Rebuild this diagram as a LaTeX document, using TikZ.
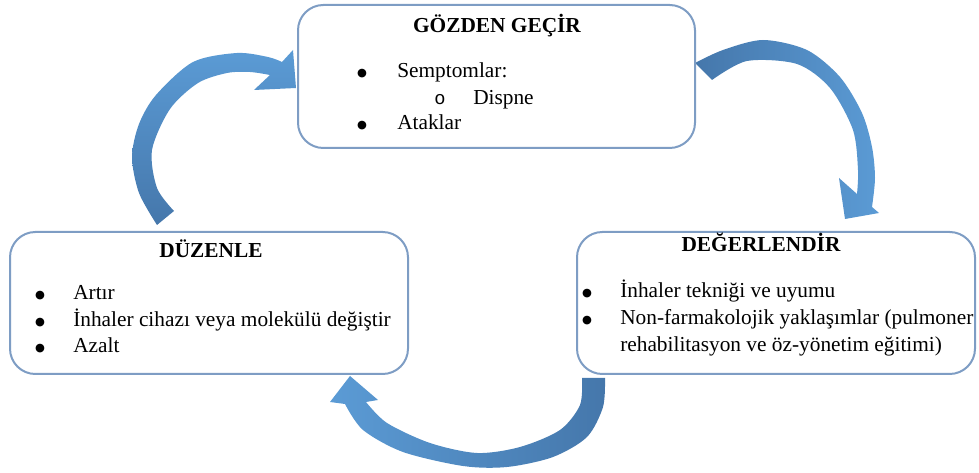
\documentclass[tikz,border=0pt]{standalone}
\usepackage{fontspec}
\setmainfont{Liberation Serif}
\newfontfamily\subbul{Liberation Mono}
\newfontfamily\bulfont{DejaVu Sans}
\definecolor{arrdark}{RGB}{69,119,171}
\definecolor{arrlight}{RGB}{91,155,213}
\definecolor{boxline}{RGB}{126,157,196}
\begin{document}
\begin{tikzpicture}[x=0.75pt,y=-0.75pt,
  box/.style={draw=boxline, line width=1.5pt, fill=white, rounded corners=19pt, inner sep=0pt},
  txt/.style={inner sep=0pt, font=\fontsize{16}{20}\selectfont, anchor=base west},
  bul/.style={inner sep=0pt, font=\fontsize{8.5}{9}\bulfont, anchor=base, yshift=1.2pt},
  subbulstyle/.style={inner sep=0pt, font=\fontsize{14}{14}\subbul, anchor=base},
  headtxt/.style={inner sep=0pt, font=\fontsize{16}{20}\selectfont\bfseries, anchor=base}]
\useasboundingbox (0,0) rectangle (979,473);

% curved block arrows
\shade[top color=arrlight, bottom color=arrdark]
  plot[smooth] coordinates {(157,225) (139,193) (132,157) (139,124) (156,95) (193,62) (237,53) (268,57) (282,62)}
  -- (293,50) -- (296,88) -- (254,90) -- (270,75)
  -- plot[smooth] coordinates {(270,75) (250,72) (227,73) (198,83) (170,109) (152,150) (157,188) (174,211)}
  -- cycle;
\shade[left color=arrdark, right color=arrlight]
  plot[smooth] coordinates {(695,63) (723,50) (763,40) (807,50) (840,77) (862,113) (872,147) (875,178) (872,207)}
  -- (879,213) -- (845,219) -- (839,178) -- (857,194)
  -- plot[smooth] coordinates {(857,194) (858,170) (853,130) (830,88) (797,64) (747,61) (712,80)}
  -- cycle;
\shade[left color=arrlight, right color=arrdark]
  plot[smooth] coordinates {(605,378) (603,407) (587,437) (553,457) (507,467) (463,466) (403,452) (363,430) (345,404)}
  -- (330,402) -- (350,376) -- (378,400) -- (366,402)
  -- plot[smooth] coordinates {(366,402) (387,423) (430,443) (477,453) (520,447) (560,430) (580,405) (582,378)}
  -- cycle;

% boxes
\node[box, minimum width=297.75pt, minimum height=107.25pt] (gozden) at (496.5,76.5) {};
\node[box, minimum width=298.5pt, minimum height=106.5pt] (duzenle) at (209,303) {};
\node[box, minimum width=298.5pt, minimum height=106.5pt] (degerlendir) at (776,303) {};

% top box text
\node[headtxt] (gh) at (497,33) {GÖZDEN GEÇİR};
\node[bul] (gb1) at (362,78) {●};
\node[txt] (gt1) at (397,78) {Semptomlar:};
\node[subbulstyle] (gb2) at (440,105) {o};
\node[txt] (gt2) at (473,105) {Dispne};
\node[bul] (gb3) at (362,130) {●};
\node[txt] (gt3) at (397,130) {Ataklar};

% left box text
\node[headtxt] (dh) at (211,258) {DÜZENLE};
\node[bul] (db1) at (40,300) {●};
\node[txt] (dt1) at (73,300) {Artır};
\node[bul] (db2) at (40,327) {●};
\node[txt] (dt2) at (73,327) {İnhaler cihazı veya molekülü değiştir};
\node[bul] (db3) at (40,353) {●};
\node[txt] (dt3) at (73,353) {Azalt};

% right box text
\node[headtxt] (rh) at (761,252) {DEĞERLENDİR};
\node[bul] (rb1) at (587,298) {●};
\node[txt] (rt1) at (620,298) {İnhaler tekniği ve uyumu};
\node[bul] (rb2) at (587,325) {●};
\node[txt] (rt2) at (620,325) {Non-farmakolojik yaklaşımlar (pulmoner};
\node[txt] (rt3) at (620,352) {rehabilitasyon ve öz-yönetim eğitimi)};
\end{tikzpicture}
\end{document}
